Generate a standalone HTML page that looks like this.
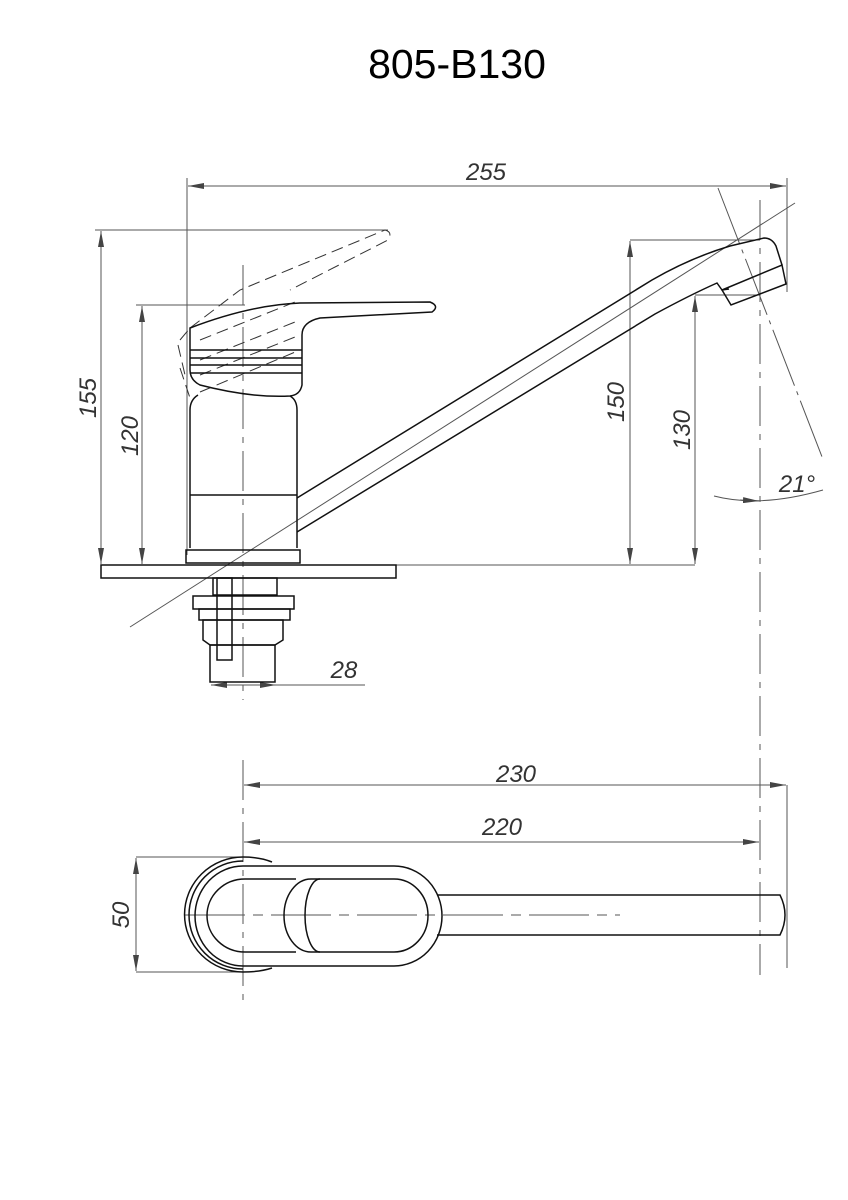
<!DOCTYPE html>
<html><head><meta charset="utf-8"><style>html,body{margin:0;padding:0;background:#fff}svg{display:block}</style></head>
<body>
<svg width="848" height="1200" viewBox="0 0 848 1200" xmlns="http://www.w3.org/2000/svg">
<defs>
<marker id="a" viewBox="0 0 16 6" refX="16" refY="3" markerWidth="16" markerHeight="6" orient="auto-start-reverse" markerUnits="userSpaceOnUse"><path d="M0,0 L16,3 L0,6 z" fill="#444"/></marker>
</defs>
<text x="457" y="78" font-family="Liberation Sans, sans-serif" font-size="41" text-anchor="middle" fill="#000">805-B130</text>
<g stroke="#555" stroke-width="1" fill="none">
<line x1="188" y1="186" x2="786" y2="186" marker-start="url(#a)" marker-end="url(#a)"/>
<line x1="187" y1="178" x2="187" y2="555"/>
<line x1="787" y1="178" x2="787" y2="292"/>
<line x1="101" y1="231" x2="101" y2="564" marker-start="url(#a)" marker-end="url(#a)"/>
<line x1="95" y1="230" x2="388" y2="230"/>
<line x1="142" y1="306" x2="142" y2="564" marker-start="url(#a)" marker-end="url(#a)"/>
<line x1="136" y1="305" x2="245" y2="305"/>
<line x1="630" y1="241" x2="630" y2="564" marker-start="url(#a)" marker-end="url(#a)"/>
<line x1="630" y1="240" x2="760" y2="240"/>
<line x1="695" y1="296" x2="695" y2="564" marker-start="url(#a)" marker-end="url(#a)"/>
<line x1="695" y1="295" x2="760" y2="295"/>
<line x1="396" y1="565" x2="695" y2="565"/>
<line x1="718" y1="188" x2="824" y2="462" stroke-dasharray="60,6,4,6"/>
<line x1="795" y1="203" x2="130" y2="627"/>
<line x1="760" y1="200" x2="760" y2="975" stroke-dasharray="40,8,6,8"/>
<line x1="243" y1="265" x2="243" y2="700" stroke-dasharray="40,8,6,8"/>
<path d="M714,496 Q760,508 823,490"/>
<line x1="740" y1="500" x2="759" y2="501" marker-end="url(#a)"/>
<line x1="211" y1="685" x2="276" y2="685" marker-start="url(#a)" marker-end="url(#a)"/>
<line x1="276" y1="685" x2="365" y2="685"/>
<line x1="244" y1="785" x2="786" y2="785" marker-start="url(#a)" marker-end="url(#a)"/>
<line x1="244" y1="842" x2="759" y2="842" marker-start="url(#a)" marker-end="url(#a)"/>
<line x1="787" y1="785" x2="787" y2="968"/>
<line x1="243" y1="760" x2="243" y2="1000" stroke-dasharray="40,8,6,8"/>
<line x1="136" y1="858" x2="136" y2="971" marker-start="url(#a)" marker-end="url(#a)"/>
<line x1="136" y1="857" x2="245" y2="857"/>
<line x1="136" y1="972" x2="245" y2="972"/>
<line x1="185" y1="915" x2="620" y2="915" stroke-dasharray="60,8,10,8"/>
</g>
<g font-family="Liberation Sans, sans-serif" font-style="italic" font-size="24" fill="#333">
<text x="486" y="180" text-anchor="middle">255</text>
<text x="516" y="782" text-anchor="middle">230</text>
<text x="502" y="835" text-anchor="middle">220</text>
<text x="344" y="678" text-anchor="middle">28</text>
<text transform="translate(138,436) rotate(-90)" text-anchor="middle">120</text>
<text transform="translate(96,398) rotate(-90)" text-anchor="middle">155</text>
<text transform="translate(624,402) rotate(-90)" text-anchor="middle">150</text>
<text transform="translate(690,430) rotate(-90)" text-anchor="middle">130</text>
<text transform="translate(129,915) rotate(-90)" text-anchor="middle">50</text>
<text x="797" y="492" text-anchor="middle">21°</text>
</g>
<g stroke="#333" stroke-width="1" fill="none" stroke-dasharray="12,6">
<path d="M190,328 L240,290 L385,230 Q393,232 388,240 L290,290"/>
<path d="M180,340 L190,328 M178,345 L185,375 M180,368 L190,398"/>
<path d="M200,340 L300,300 M200,360 L300,320 M200,375 L300,335 M200,392 L300,350"/>
</g>
<g stroke="#111" stroke-width="1.5" fill="none">
<path d="M190,328 Q250,305 300,303 L430,302 Q440,306 432,312 L320,318 Q302,322 302,335 L302,385 Q300,395 290,396 Q250,398 200,385 Q190,380 190,370 Z"/>
<line x1="190" y1="350" x2="302" y2="350"/><line x1="190" y1="358" x2="302" y2="358"/>
<line x1="190" y1="365" x2="302" y2="365"/><line x1="190" y1="373" x2="302" y2="373"/>
<path d="M198,395 Q190,400 190,410 L190,548 M290,396 Q297,400 297,410 L297,548"/>
<line x1="190" y1="495" x2="297" y2="495"/>
<rect x="186" y="550" width="114" height="13"/>
<rect x="101" y="565" width="295" height="13"/>
<path d="M297,498 L652,280 Q690,258 730,246 L764,238 Q772,238 776,246 L782,265"/>
<path d="M297,532 L655,314 Q690,295 717,283 L722,290 L729,289"/>
<path d="M722,290 L782,265 L786,284 L731,305 Z"/>
<rect x="213" y="578" width="64" height="17"/>
<rect x="193" y="596" width="101" height="13"/>
<rect x="199" y="609" width="91" height="11"/>
<path d="M203,620 L283,620 L283,640 L275,645 L210,645 L203,640 Z"/>
<rect x="210" y="645" width="65" height="37"/>
<rect x="217" y="578" width="15" height="82"/>
<!-- top view -->
<path d="M272,862 Q260,857 243,857 A58,57 0 0 0 243,972 Q260,972 272,968"/>
<path d="M243,861 A54,54 0 0 0 243,969"/>
<path d="M243,866 L394,866 A48,50 0 0 1 394,966 L243,966 A48,50 0 0 1 243,866 Z"/>
<path d="M296,879 L245,879 A38,36.5 0 0 0 245,952 L296,952"/>
<path d="M311,879 L394,879 A34,36.5 0 0 1 394,952 L311,952 A27,36.5 0 0 1 311,879 Z"/>
<path d="M320,879 A15,36.5 0 0 0 320,952"/>
<path d="M437,895 L780,895 Q790,915 780,935 L437,935"/>
</g>
</svg>
</body></html>
